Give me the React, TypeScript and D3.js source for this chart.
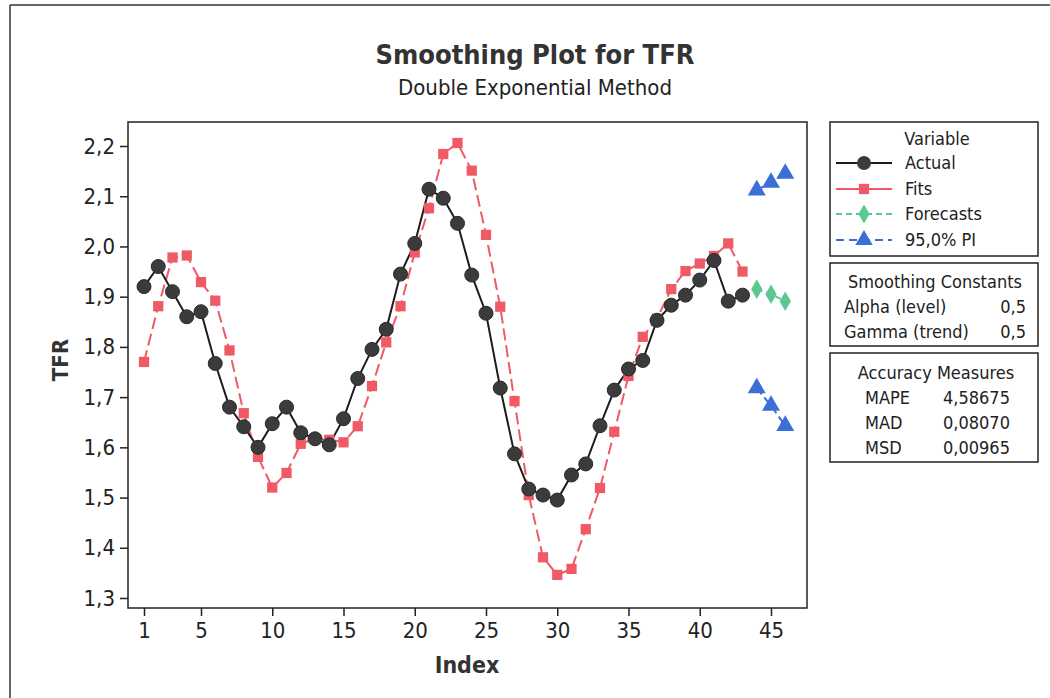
import React, { useEffect, useRef } from 'react';
import * as d3 from 'd3';

// values
const actual = [1.92, 1.96, 1.91, 1.86, 1.87, 1.767, 1.68, 1.641, 1.60, 1.647,
  1.68, 1.629, 1.617, 1.605, 1.657, 1.737, 1.795, 1.835, 1.945, 2.006,
  2.114, 2.096, 2.046, 1.943, 1.867, 1.718, 1.587, 1.517, 1.505, 1.495,
  1.545, 1.567, 1.643, 1.714, 1.756, 1.773, 1.853, 1.883, 1.903, 1.933,
  1.972, 1.891, 1.903];
const fits = [1.77, 1.881, 1.978, 1.982, 1.929, 1.892, 1.793, 1.668, 1.581, 1.52,
  1.549, 1.607, 1.617, 1.615, 1.61, 1.642, 1.722, 1.809, 1.881, 1.988,
  2.076, 2.184, 2.206, 2.151, 2.023, 1.88, 1.692, 1.505, 1.381, 1.346,
  1.358, 1.437, 1.519, 1.631, 1.742, 1.82, 1.856, 1.915, 1.951, 1.966,
  1.981, 2.006, 1.95];
const forecastIndex = [44, 45, 46];
const forecasts = [1.915, 1.905, 1.891];
const piUpper = [2.112, 2.127, 2.145];
const piLower = [1.718, 1.683, 1.643];

const xTicks = [1, 5, 10, 15, 20, 25, 30, 35, 40, 45];
const yTicks = [1.3, 1.4, 1.5, 1.6, 1.7, 1.8, 1.9, 2.0, 2.1, 2.2];

const legendItems = ['Actual', 'Fits', 'Forecasts', '95,0% PI'];
const constants = [['Alpha (level)', '0,5'], ['Gamma (trend)', '0,5']];
const accuracy = [['MAPE', '4,58675'], ['MAD', '0,08070'], ['MSD', '0,00965']];

const FONT = "'DejaVu Sans Condensed', 'DejaVu Sans', sans-serif";
const C_ACT = '#3b3b3b';
const C_FIT = '#ef5a64';
const C_FC = '#5cc78e';
const C_PI = '#3b6fd6';

const SmoothingPlot = () => {
  const ref = useRef(null);

  useEffect(() => {
    const svg = d3.select(ref.current);
    svg.selectAll('*').remove();

    const frame = { left: 128, right: 807, top: 122, bottom: 608 };

    const x = d3.scaleLinear().domain([1, 45]).range([144, 771]);
    const y = d3.scaleLinear().domain([1.3, 2.2]).range([598, 146]);

    // outer page frame (scan edge)
    svg.append('line').attr('x1', 10).attr('x2', 1050).attr('y1', 5).attr('y2', 5)
      .style('stroke', '#333').style('stroke-width', 1.5);
    svg.append('line').attr('x1', 10).attr('x2', 10).attr('y1', 5).attr('y2', 698)
      .style('stroke', '#333').style('stroke-width', 1.5);

    // titles
    svg.append('text').attr('x', 535).attr('y', 64).attr('text-anchor', 'middle')
      .style('font-family', FONT).style('font-weight', 'bold').style('font-size', '27px')
      .style('fill', '#333').text('Smoothing Plot for TFR');
    svg.append('text').attr('x', 535).attr('y', 95).attr('text-anchor', 'middle')
      .style('font-family', FONT).style('font-size', '22px')
      .style('fill', '#222').text('Double Exponential Method');

    // plot frame
    svg.append('rect')
      .attr('x', frame.left).attr('y', frame.top)
      .attr('width', frame.right - frame.left).attr('height', frame.bottom - frame.top)
      .style('fill', 'none').style('stroke', '#222').style('stroke-width', 1.5);

    const yAxis = d3.axisLeft(y).tickValues(yTicks).tickSize(8).tickPadding(5)
      .tickFormat(d => d3.format('.1f')(d).replace('.', ','));
    const yg = svg.append('g').attr('transform', `translate(${frame.left},0)`).call(yAxis);
    yg.select('.domain').remove();
    yg.selectAll('line').style('stroke', '#222').style('stroke-width', 1.5);
    yg.selectAll('text').style('font-family', FONT).style('font-size', '22px').style('fill', '#222');

    const xAxis = d3.axisBottom(x).tickValues(xTicks).tickSize(8).tickPadding(6);
    const xg = svg.append('g').attr('transform', `translate(0,${frame.bottom})`).call(xAxis);
    xg.select('.domain').remove();
    xg.selectAll('line').style('stroke', '#222').style('stroke-width', 1.5);
    xg.selectAll('text').style('font-family', FONT).style('font-size', '22px').style('fill', '#222');

    svg.append('text').attr('x', 467).attr('y', 673).attr('text-anchor', 'middle')
      .style('font-family', FONT).style('font-weight', 'bold').style('font-size', '23px')
      .style('fill', '#333').text('Index');
    svg.append('text').attr('transform', 'translate(68,360) rotate(-90)').attr('text-anchor', 'middle')
      .style('font-family', FONT).style('font-weight', 'bold').style('font-size', '22px')
      .style('fill', '#333').text('TFR');

    const line = d3.line().x(d => x(d[0])).y(d => y(d[1]));
    const actPts = actual.map((v, i) => [i + 1, v]);
    const fitPts = fits.map((v, i) => [i + 1, v]);
    const fcPts = forecasts.map((v, i) => [forecastIndex[i], v]);
    const upPts = piUpper.map((v, i) => [forecastIndex[i], v]);
    const loPts = piLower.map((v, i) => [forecastIndex[i], v]);

    // fits first, dashed red
    svg.append('path').datum(fitPts).attr('d', line)
      .style('fill', 'none').style('stroke', C_FIT).style('stroke-width', 2)
      .style('stroke-dasharray', '12,5');
    svg.append('path').datum(actPts).attr('d', line)
      .style('fill', 'none').style('stroke', '#1c1c1c').style('stroke-width', 2);
    svg.append('path').datum(fcPts).attr('d', line)
      .style('fill', 'none').style('stroke', C_FC).style('stroke-width', 2)
      .style('stroke-dasharray', '6,4');
    [upPts, loPts].forEach(pts => {
      svg.append('path').datum(pts).attr('d', line)
        .style('fill', 'none').style('stroke', C_PI).style('stroke-width', 2)
        .style('stroke-dasharray', '8,4');
    });

    const sym = (type, size) => d3.symbol().type(type).size(size);

    svg.append('g').selectAll('path').data(fitPts).enter().append('path')
      .attr('transform', d => `translate(${x(d[0])},${y(d[1])})`)
      .attr('d', sym(d3.symbolSquare, 105)).style('fill', C_FIT);

    svg.append('g').selectAll('circle').data(actPts).enter().append('circle')
      .attr('cx', d => x(d[0])).attr('cy', d => y(d[1])).attr('r', 7)
      .style('fill', C_ACT).style('stroke', '#2a2a2a').style('stroke-width', 1);

    svg.append('g').selectAll('path').data(fcPts).enter().append('path')
      .attr('transform', d => `translate(${x(d[0])},${y(d[1])})`)
      .attr('d', sym(d3.symbolDiamond, 110)).style('fill', C_FC);

    svg.append('g').selectAll('path').data(upPts.concat(loPts)).enter().append('path')
      .attr('transform', d => `translate(${x(d[0])},${y(d[1])})`)
      .attr('d', sym(d3.symbolTriangle, 140)).style('fill', C_PI);

    // legend boxes
    const boxes = [[122, 256], [263, 346], [353, 462]];
    boxes.forEach(([t, b]) => {
      svg.append('rect').attr('x', 830).attr('y', t).attr('width', 208).attr('height', b - t)
        .style('fill', 'white').style('stroke', '#222').style('stroke-width', 1.5);
    });

    const txt = (xx, yy, s, anchor = 'start') => svg.append('text')
      .attr('x', xx).attr('y', yy).attr('text-anchor', anchor)
      .style('font-family', FONT).style('font-size', '18px').style('fill', '#222').text(s);

    txt(937, 145, 'Variable', 'middle');
    const legY = [163, 189, 214, 240];
    const legStyle = [
      { c: '#1c1c1c', dash: null, mark: null },
      { c: C_FIT, dash: null, mark: d3.symbolSquare },
      { c: C_FC, dash: '6,4', mark: d3.symbolDiamond },
      { c: C_PI, dash: '8,5', mark: d3.symbolTriangle },
    ];
    legendItems.forEach((name, i) => {
      const st = legStyle[i];
      svg.append('line').attr('x1', 836).attr('x2', 892).attr('y1', legY[i]).attr('y2', legY[i])
        .style('stroke', st.c).style('stroke-width', 2)
        .style('stroke-dasharray', st.dash);
      if (i === 0) {
        svg.append('circle').attr('cx', 864).attr('cy', legY[i]).attr('r', 7).style('fill', C_ACT);
      } else {
        svg.append('path').attr('transform', `translate(864,${legY[i]})`)
          .attr('d', sym(st.mark, i === 3 ? 130 : 105)).style('fill', st.c);
      }
      txt(905, legY[i] + 6, name);
    });

    txt(935, 288, 'Smoothing Constants', 'middle');
    constants.forEach(([k, v], i) => {
      txt(844, 313 + i * 25, k);
      txt(1026, 313 + i * 25, v, 'end');
    });

    txt(936, 379, 'Accuracy Measures', 'middle');
    accuracy.forEach(([k, v], i) => {
      txt(865, 404 + i * 25, k);
      txt(943, 404 + i * 25, v);
    });
  }, []);

  return <svg ref={ref} width={1050} height={698}
    style={{ position: 'absolute', left: 0, top: 0, background: 'white' }} />;
};

export default function App() {
  return <SmoothingPlot />;
}
